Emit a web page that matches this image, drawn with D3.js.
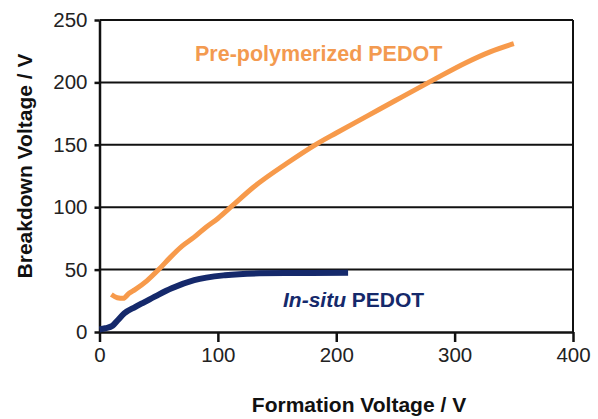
<!DOCTYPE html>
<html>
<head>
<meta charset="utf-8">
<script src="https://cdn.jsdelivr.net/npm/d3@7"></script>
<style>
  body { margin: 0; background: #fff; }
  svg text { font-family: Arial, "Liberation Sans", sans-serif; }
</style>
</head>
<body>
<svg id="chart" width="598" height="419"></svg>
<script>
// formation voltage (V) vs breakdown voltage (V)
const prePolyX = [10, 15, 20, 25, 30, 40, 50, 60, 70, 80, 90, 100, 112, 130, 158, 184, 200, 226, 250, 282, 310, 330, 350];
const prePolyY = [30, 27.5, 27, 31, 34, 41, 50, 60, 69, 76, 84, 91, 101, 116, 135, 151, 159.5, 173, 185.5, 202, 216, 224.5, 231];

const inSituX = [0, 5, 11, 15, 21, 30, 38, 50, 61, 80, 106, 135, 170, 210];
const inSituY = [2, 3, 5, 9, 15, 20, 24, 30, 35, 41.5, 45.5, 47, 47.3, 47.5];

const xTicks = [0, 100, 200, 300, 400];
const yTicks = [0, 50, 100, 150, 200, 250];

const svg = d3.select('#chart');

const x = d3.scaleLinear().domain([0, 400]).range([99.5, 573]);
const y = d3.scaleLinear().domain([0, 250]).range([332, 20]);

// horizontal grid lines
svg.append('g')
  .selectAll('line')
  .data(yTicks.filter(d => d > 0))
  .enter().append('line')
    .attr('x1', x(0)).attr('x2', x(400))
    .attr('y1', d => y(d)).attr('y2', d => y(d))
    .attr('stroke', '#111').attr('stroke-width', 2);

// right border
svg.append('line')
  .attr('x1', x(400)).attr('x2', x(400))
  .attr('y1', y(250)).attr('y2', y(0))
  .attr('stroke', '#111').attr('stroke-width', 2);

const yAxis = svg.append('g')
  .attr('transform', 'translate(' + x(0) + ',0)')
  .call(d3.axisLeft(y).tickValues(yTicks).tickSize(5).tickPadding(7).tickSizeOuter(0));

const xAxis = svg.append('g')
  .attr('transform', 'translate(0,' + y(0) + ')')
  .call(d3.axisBottom(x).tickValues(xTicks).tickSize(10).tickPadding(5).tickSizeOuter(0));

[xAxis, yAxis].forEach(function(a) {
  a.select('.domain').attr('stroke', '#111').attr('stroke-width', 2.5);
  a.selectAll('.tick line').attr('stroke', '#111').attr('stroke-width', 2.5);
  a.selectAll('.tick text')
    .attr('font-size', 20.5)
    .attr('fill', '#222')
    .style('font-family', 'Arial, "Liberation Sans", sans-serif');
});

const line = d3.line()
  .x(d => x(d[0]))
  .y(d => y(d[1]))
  .curve(d3.curveMonotoneX);

svg.append('path')
  .datum(d3.zip(prePolyX, prePolyY))
  .attr('d', line)
  .attr('fill', 'none')
  .attr('stroke', '#F79A4B')
  .attr('stroke-width', 5)
  .attr('stroke-linejoin', 'round');

svg.append('path')
  .datum(d3.zip(inSituX, inSituY))
  .attr('d', line)
  .attr('fill', 'none')
  .attr('stroke', '#15296B')
  .attr('stroke-width', 6)
  .attr('stroke-linejoin', 'round');

// series labels
svg.append('text')
  .attr('x', 195).attr('y', 61)
  .attr('font-size', 21.5).attr('font-weight', 'bold')
  .attr('fill', '#F39A50')
  .text('Pre-polymerized PEDOT');

const lbl = svg.append('text')
  .attr('x', 283).attr('y', 307)
  .attr('font-size', 21).attr('font-weight', 'bold')
  .attr('fill', '#15296B');
lbl.append('tspan').attr('font-style', 'italic').text('In-situ');
lbl.append('tspan').text(' PEDOT');

// axis titles
svg.append('text')
  .attr('x', 359).attr('y', 412)
  .attr('text-anchor', 'middle')
  .attr('font-size', 21).attr('font-weight', 'bold')
  .attr('fill', '#111')
  .text('Formation Voltage / V');

svg.append('text')
  .attr('transform', 'translate(32,166) rotate(-90)')
  .attr('text-anchor', 'middle')
  .attr('font-size', 21).attr('font-weight', 'bold')
  .attr('fill', '#111')
  .text('Breakdown Voltage / V');
</script>
</body>
</html>
